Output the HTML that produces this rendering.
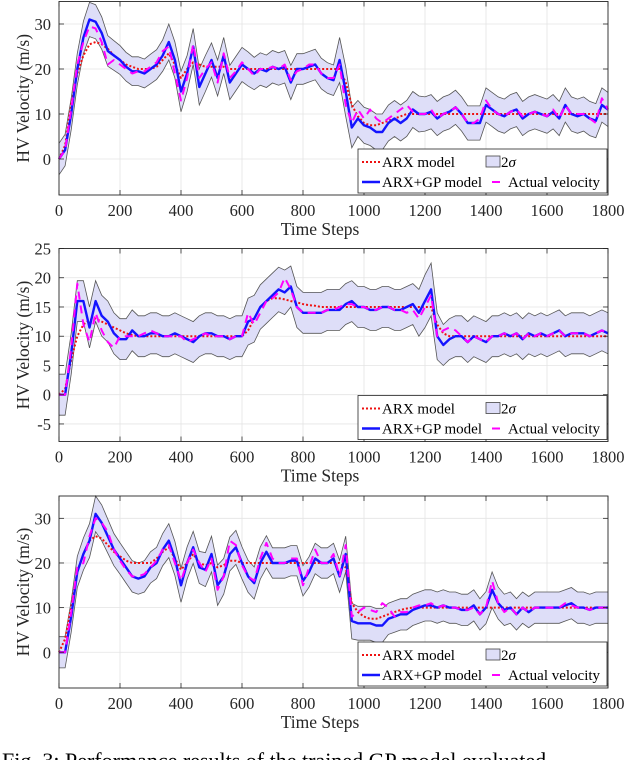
<!DOCTYPE html>
<html><head><meta charset="utf-8"><style>
html,body{margin:0;padding:0;background:#fff;width:640px;height:760px;overflow:hidden}
svg{display:block;font-family:"Liberation Serif",serif}
</style></head><body>
<svg id="fig" width="640" height="760" viewBox="0 0 640 760" xmlns="http://www.w3.org/2000/svg">
<text x="2" y="768" font-size="22" fill="#000">Fig. 3: Performance results of the trained GP model evaluated</text>
</svg>
<script>
const steps=[];for(let t=0;t<=1800;t+=20)steps.push(t);
const xTicks=[0,200,400,600,800,1000,1200,1400,1600,1800];
const yTicks1=[0,10,20,30];
const yTicks2=[-5,0,5,10,15,20,25];
const yTicks3=[0,10,20,30];
const gp1=[0,2,10,20,27,31,30.5,28,24,23,22,20.5,19.5,19.5,19,20,21,23,26,22,15,19,25,16,19,22,18,23,17,19,21,20,19,20,19.5,20.5,20,20.5,17,20,20,20.5,21,19,18,17.5,22,15,7,9,7.5,7,6,6,8,9,8,9,11,10,10,10.5,9,10,10.5,11.5,10,8,8,8,12,11,10,9.5,10.5,11,9,10,10.5,10,9.5,10.5,9,12,10,9.5,10,9,8.5,12,11];
const act1=[0,2,11,21,26,29.5,29,26,21,22,21,20,19,19.5,19.5,20.5,21.5,24,25,19,13,18,25.5,18,20,21.5,17,23.5,18,19.5,21.5,20,18.5,20,20,20.5,20,21,17.5,19.5,20,21,21,19,18,18,21,12,8,11,9,11,9,8,9,10,11,12,10.5,10,10,11,9,10,10.5,11.5,10,8,8,9,13,11,10,9.5,10.5,11,9.5,10,10.5,10,9.5,11,9,12,10,10,10,9,8,13.5,11];
const arx1=[0,3,12,19,23,25.5,26,25.5,24.5,23,22,21,20.5,20,20,20,20.5,22,23.5,21,18,20,21.5,21,20.5,20.5,20.5,20.5,20,20,20,20,20,20,20,20,20,20,20,20,20,20,20,20,20,20,20,17,12,9.5,8,7.5,7.5,8,8.5,9,9.5,10,10,10,10,10,10,10,10,10,10,10,10,10,10,10,10,10,10,10,10,10,10,10,10,10,10,10,10,10,10,10,10,10,10];
const sig1=[3.5,3.5,3.5,3.5,3.6,3.8,3.8,3.6,3.4,3.3,3.2,3.2,3.2,3.2,3.2,3.3,3.3,3.5,4,4,4.5,4,4,4,4,3.8,4,4,3.8,3.8,3.8,3.8,3.6,3.6,3.6,3.6,3.6,3.6,3.8,3.4,3.4,3.4,3.4,3.4,3.4,3.4,5,5.5,4.5,4,4,4,4,4,4,4,4,4,4,4,3.8,3.8,3.8,3.8,3.8,3.8,3.8,3.8,3.8,3.8,3.8,3.8,3.8,3.8,3.8,3.8,3.8,3.8,3.8,3.8,3.8,3.8,3.8,3.8,3.8,3.8,3.8,3.8,3.8,3.8,3.8];
const gp2=[0,0,7,16,16,11.5,16,13.5,12.5,10.5,9.5,9.5,11,10,10,10.5,10.5,10,10,10.5,10,9.5,9,10,10.5,10.5,10,10,9.5,10,10,12.5,13,15,16,17,18,17.5,18.5,15,14,14,14,14,14.5,14.5,14.5,15.5,16,15,15,14.5,14.5,15,15,14.5,14.5,15,15.5,14,16,18,10,8.5,9.5,10,10,9,10,9.5,9,10,10,10.5,10,10.5,9.5,10.5,10,10.5,10,10.5,11,10,10.5,10.5,10.5,10,10.5,11,10.5];
const act2=[0,0,8,19,12,9,14,11,9,8,10,10,10,10,10.5,11,10.5,10,10,10,10,9,9.5,10,10.5,10,10,10,9.5,10,10,14,12,14,16,16.5,17.5,20,18,15,14,14,14,14,14.5,14.5,15,15.5,15.5,15,15,14.5,14.5,15,15,14.5,14.5,14,14.5,13,15,17,10,11,11.5,11,10,9,10,9.5,9,10,10,10.5,10,10.5,9.5,10.5,10,10.5,10,10.5,11,10,10.5,10.5,10.5,10,10.5,11,10.5];
const arx2=[0,1,6,10,12,12.8,13,12.5,12,11.5,11,10.5,10.2,10,10,10,10,10,10,10,10,10,10,10,10,10,10,10,10,10,10,11,13,15,16,16.5,16.5,16.3,16,15.8,15.5,15.3,15.2,15,15,15,15,15,15,15,15,15,15,15,15,15,15,15,15,15,15,15,12,10.5,10,10,10,10,10,10,10,10,10,10,10,10,10,10,10,10,10,10,10,10,10,10,10,10,10,10,10];
const sig2=[3.5,3.5,3.5,3.5,3.5,3.5,3.5,3.5,3.5,3.5,3.5,3.5,3.5,3.5,3.5,3.5,3.5,3.5,3.5,3.5,3.5,3.5,3.5,3.5,3.5,3.5,3.5,3.5,3.5,3.5,3.5,4,4,3.8,3.8,3.8,3.8,3.8,3.5,3.5,3.5,3.5,3.5,3.5,3.5,3.5,3.5,3.5,3.5,3.5,3.5,3.5,3.5,3.5,3.5,3.5,3.5,3.5,3.5,4,4.5,4.5,4,3.5,3.5,3.5,3.5,3.5,3.5,3.5,3.5,3.5,3.5,3.5,3.5,3.5,3.5,3.5,3.5,3.5,3.5,3.5,3.5,3.5,3.5,3.5,3.5,3.5,3.5,3.5,3.5];
const gp3=[0,0,8,18,22,25,31,29,26,23,21,19,17,16.5,17,19,20,23,25,21,15,20,23.5,19,18.5,22,15,17,22,23.5,20,17,15.5,20,22.5,20,20,20,20.5,20.5,16,18,21,20,20,21,17,22,7,6.5,6.5,6.5,6,6,7.5,8,8.5,8.5,9.5,10,10.5,10.5,10,10.5,10,10,9.5,9.5,10.5,8.5,10,14,11,9.5,10,8.5,10,9,10,10,10,10,10,10.5,11,10,10,9.5,10,10,10];
const act3=[0,0,9,19,20,26,30,29,27,23,20.5,18.5,17,17,17.5,19,20.5,23,24,20,16,20,23,20,18,21,14,17,25,24,19.5,17,16,21,24.5,21,20,20,21,21,15,19,23,20,20,22,17,24,8,9,10,9.5,9,11,10,8,9,9,10,10.5,10.5,11,10,10.5,10,10,9.5,9.5,10,8.5,10,16,11,9,10,8.5,10,9,10,10,10,10,10,11,10.5,10,10,9.5,10,10,10];
const arx3=[0,3,10,18,22,25,26,25.5,24,22.5,21.5,20.5,20,20,20,20,21,22.5,23.5,21,18.5,20,22,20,19.5,20,19,19.5,20.5,20.5,20,20,20,20,20,20,20,20,20,20,20,20,20,20,20,20,20,19,11,9,8,7.5,7.5,8,8.5,9,9.5,9.8,10,10,10,10,10,10,10,10,10,10,10,10,10,10,10,10,10,10,10,10,10,10,10,10,10,10,10,10,10,10,10,10,10];
const sig3=[3.5,3.5,3.5,3.5,3.6,3.8,4,4,3.8,3.6,3.5,3.5,3.5,3.5,3.5,3.5,3.5,3.6,3.8,3.8,3.8,3.6,3.6,3.6,3.8,4,4.5,4,3.8,3.8,3.6,3.6,3.6,3.6,3.6,3.4,3.4,3.4,3.4,3.4,3.4,3.4,3.4,3.4,3.4,3.4,3.6,4,4,3.8,3.8,3.8,3.8,3.8,3.5,3.5,3.5,3.5,3.5,3.5,3.5,3.5,3.5,3.5,3.5,3.5,3.5,3.5,3.5,3.5,3.6,4,3.6,3.5,3.5,3.5,3.5,3.5,3.5,3.5,3.5,3.5,3.5,3.5,3.5,3.5,3.5,3.5,3.5,3.5,3.5];

const NS='http://www.w3.org/2000/svg';
const svg=document.getElementById('fig');
function mk(tag,attrs,parent){const e=document.createElementNS(NS,tag);for(const k in attrs)e.setAttribute(k,attrs[k]);(parent||svg).appendChild(e);return e;}
const X0=59,X1=608;
function xs(t){return X0+(t/1800)*(X1-X0);}
function panel(idx,top,bot,ymin,ymax,yTicks,gp,act,arx,sig){
  const ys=v=>bot-(v-ymin)/(ymax-ymin)*(bot-top);
  const g=mk('g',{});
  
  
  mk('rect',{x:X0,y:top,width:X1-X0,height:bot-top,fill:'#fff'},g);
  xTicks.forEach(t=>{const l=mk('line',{x1:xs(t),x2:xs(t),y1:top,y2:bot,stroke:'#e4e4e4','stroke-width':0.8},g);
    });
  yTicks.forEach(v=>{const l=mk('line',{x1:X0,x2:X1,y1:ys(v),y2:ys(v),stroke:'#e4e4e4','stroke-width':0.8},g);
    });
  const up=steps.map((t,i)=>xs(t).toFixed(1)+','+ys(gp[i]+sig[i]).toFixed(1));
  const lo=steps.map((t,i)=>xs(t).toFixed(1)+','+ys(gp[i]-sig[i]).toFixed(1));
  const band=mk('polygon',{points:up.concat(lo.slice().reverse()).join(' '),fill:'#dedef8',stroke:'none'},g);
  
  const ue=mk('polyline',{points:up.join(' '),fill:'none',stroke:'#555','stroke-width':0.8},g);
  
  const le=mk('polyline',{points:lo.join(' '),fill:'none',stroke:'#555','stroke-width':0.8},g);
  
  const line=(arr,st)=>mk('polyline',Object.assign({points:steps.map((t,i)=>xs(t).toFixed(1)+','+ys(arr[i]).toFixed(1)).join(' '),fill:'none','stroke-linejoin':'round'},st),g);
  const a=line(arx,{stroke:'#ee1111','stroke-width':2,'stroke-dasharray':'2,2'});
  
  const b=line(gp,{stroke:'#1414ff','stroke-width':2.4});
  
  const c=line(act,{stroke:'#ff00ff','stroke-width':2,'stroke-dasharray':'8,6'});
  
  const fr=mk('rect',{x:X0,y:top,width:X1-X0,height:bot-top,fill:'none',stroke:'#262626','stroke-width':0.9},g);
  
  xTicks.forEach(t=>{mk('line',{x1:xs(t),x2:xs(t),y1:bot,y2:bot-5,stroke:'#262626','stroke-width':0.8},g);
    mk('line',{x1:xs(t),x2:xs(t),y1:top,y2:top+5,stroke:'#262626','stroke-width':0.8},g);
    const tx=mk('text',{x:xs(t),y:bot+21,'font-size':16.5,'text-anchor':'middle',fill:'#262626'},g);tx.textContent=t;
    });
  yTicks.forEach(v=>{mk('line',{x1:X0,x2:X0+5,y1:ys(v),y2:ys(v),stroke:'#262626','stroke-width':0.8},g);
    mk('line',{x1:X1,x2:X1-5,y1:ys(v),y2:ys(v),stroke:'#262626','stroke-width':0.8},g);
    const tx=mk('text',{x:X0-8,y:ys(v)+6,'font-size':16.5,'text-anchor':'end',fill:'#262626'},g);tx.textContent=v;
    });
  const xl=mk('text',{x:320,y:bot+40,'font-size':17.5,'text-anchor':'middle',fill:'#262626'},g);xl.textContent='Time Steps';
  
  const yc=(top+bot)/2;
  const yl=mk('text',{x:0,y:0,'font-size':17.5,'text-anchor':'middle',fill:'#262626',transform:'translate(29,'+yc+') rotate(-90)'},g);yl.textContent='HV Velocity (m/s)';
  
  const lg=mk('g',{},g);
  
  const ly=bot-46,lx=358;
  mk('rect',{x:lx,y:ly,width:X1-lx-1,height:44,fill:'#fff',stroke:'#262626','stroke-width':0.8},lg);
  mk('line',{x1:lx+4,x2:lx+22,y1:ly+13,y2:ly+13,stroke:'#ee1111','stroke-width':2,'stroke-dasharray':'2,2'},lg);
  mk('line',{x1:lx+4,x2:lx+22,y1:ly+33,y2:ly+33,stroke:'#1414ff','stroke-width':2.4},lg);
  mk('rect',{x:lx+128,y:ly+7,width:14,height:11,fill:'#dedef8',stroke:'#444','stroke-width':0.8},lg);
  mk('line',{x1:lx+134,x2:lx+142,y1:ly+33,y2:ly+33,stroke:'#ff00ff','stroke-width':2},lg);
  const te=[['ARX model',lx+24,ly+18],['ARX+GP model',lx+24,ly+38],['Actual velocity',lx+150,ly+38]];
  te.forEach(d=>{const tx=mk('text',{x:d[1],y:d[2],'font-size':15,fill:'#000'},lg);tx.textContent=d[0];
    });
  const s=mk('text',{x:lx+143,y:ly+18,'font-size':15,fill:'#000'},lg);
  s.innerHTML='2<tspan font-style="italic">σ</tspan>';
  
}
panel(1,1.5,195,-8,35,yTicks1,gp1,act1,arx1,sig1);
panel(2,248.5,441.5,-8,25,yTicks2,gp2,act2,arx2,sig2);
panel(3,496,688,-8,35,yTicks3,gp3,act3,arx3,sig3);
</script>
</body></html>
